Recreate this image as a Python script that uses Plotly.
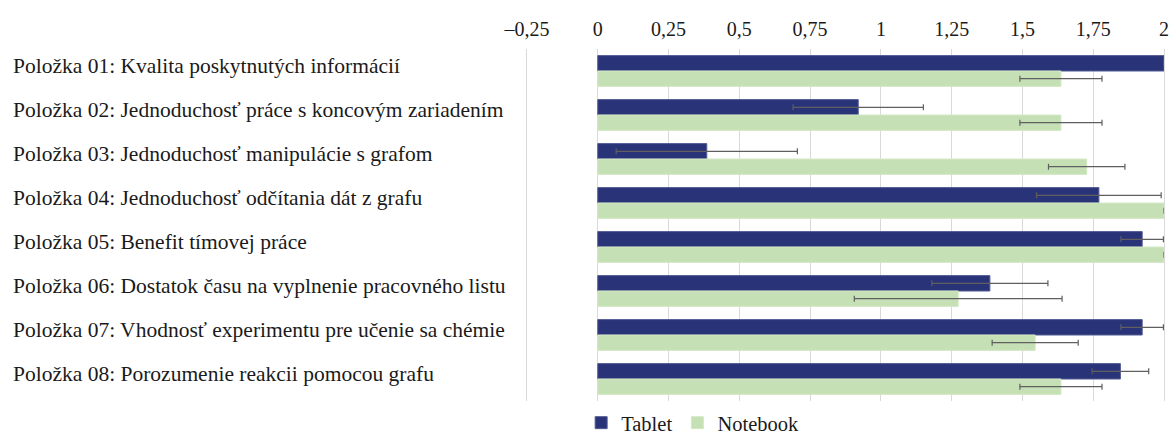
import plotly.graph_objects as go

categories = [
    "Položka 01: Kvalita poskytnutých informácií",
    "Položka 02: Jednoduchosť práce s koncovým zariadením",
    "Položka 03: Jednoduchosť manipulácie s grafom",
    "Položka 04: Jednoduchosť odčítania dát z grafu",
    "Položka 05: Benefit tímovej práce",
    "Položka 06: Dostatok času na vyplnenie pracovného listu",
    "Položka 07: Vhodnosť experimentu pre učenie sa chémie",
    "Položka 08: Porozumenie reakcii pomocou grafu",
]
tablet = [2.0, 0.92, 0.385, 1.77, 1.923, 1.385, 1.923, 1.846]
tablet_err = [0.0, 0.23, 0.32, 0.22, 0.075, 0.205, 0.075, 0.10]
notebook = [1.636, 1.636, 1.727, 2.0, 2.0, 1.273, 1.545, 1.636]
notebook_err = [0.145, 0.145, 0.135, 0.0, 0.0, 0.367, 0.152, 0.145]

tick_vals = [-0.25, 0, 0.25, 0.5, 0.75, 1, 1.25, 1.5, 1.75, 2]
tick_text = ["–0,25", "0", "0,25", "0,5", "0,75", "1", "1,25", "1,5", "1,75", "2"]

FONT = "Liberation Serif, Times New Roman, serif"
GRID = "#d9d9d9"
err_style = dict(type="data", color="#5f5f5f", thickness=1.2, width=3)

fig = go.Figure()
fig.add_trace(go.Bar(
    y=categories, x=tablet, name="Tablet", orientation="h",
    marker=dict(color="#283378", line=dict(color="#535c93", width=1)),
    error_x=dict(array=tablet_err, **err_style),
))
fig.add_trace(go.Bar(
    y=categories, x=notebook, name="Notebook", orientation="h",
    marker=dict(color="#c6e0b5", line=dict(color="#d4e8c6", width=1)),
    error_x=dict(array=notebook_err, **err_style),
))

for c in categories:
    fig.add_annotation(
        x=-0.8105, xref="paper", y=c, yref="y", text=c, showarrow=False,
        xanchor="left", yanchor="middle", yshift=5,
        font=dict(family=FONT, size=21.5, color="#1a1a1a"),
    )

fig.update_layout(
    width=1170, height=435,
    margin=dict(l=527, r=6, t=49, b=34, pad=0, autoexpand=False),
    paper_bgcolor="white", plot_bgcolor="white",
    barmode="group", bargap=0.3, bargroupgap=0,
    font=dict(family=FONT, size=20, color="#1a1a1a"),
    showlegend=True,
    legend=dict(orientation="h", x=0.085, xanchor="left", y=-0.062, yanchor="middle",
                font=dict(family=FONT, size=20.5, color="#1a1a1a"),
                itemwidth=30, tracegroupgap=0),
    xaxis=dict(side="top", range=[-0.25, 2.0], tickvals=tick_vals, ticktext=tick_text,
               showgrid=True, gridcolor=GRID, gridwidth=1, zeroline=False,
               showline=False, ticks="", automargin=False, ticklabelstandoff=8,
               tickfont=dict(family=FONT, size=20, color="#1a1a1a")),
    yaxis=dict(autorange="reversed", showticklabels=False, showgrid=False, zeroline=False,
               showline=True, linecolor=GRID, linewidth=1, mirror=True,
               ticks="", automargin=False),
)

fig.write_html("out.html", config={"displayModeBar": False},
               post_script="document.body.style.margin='0';")
